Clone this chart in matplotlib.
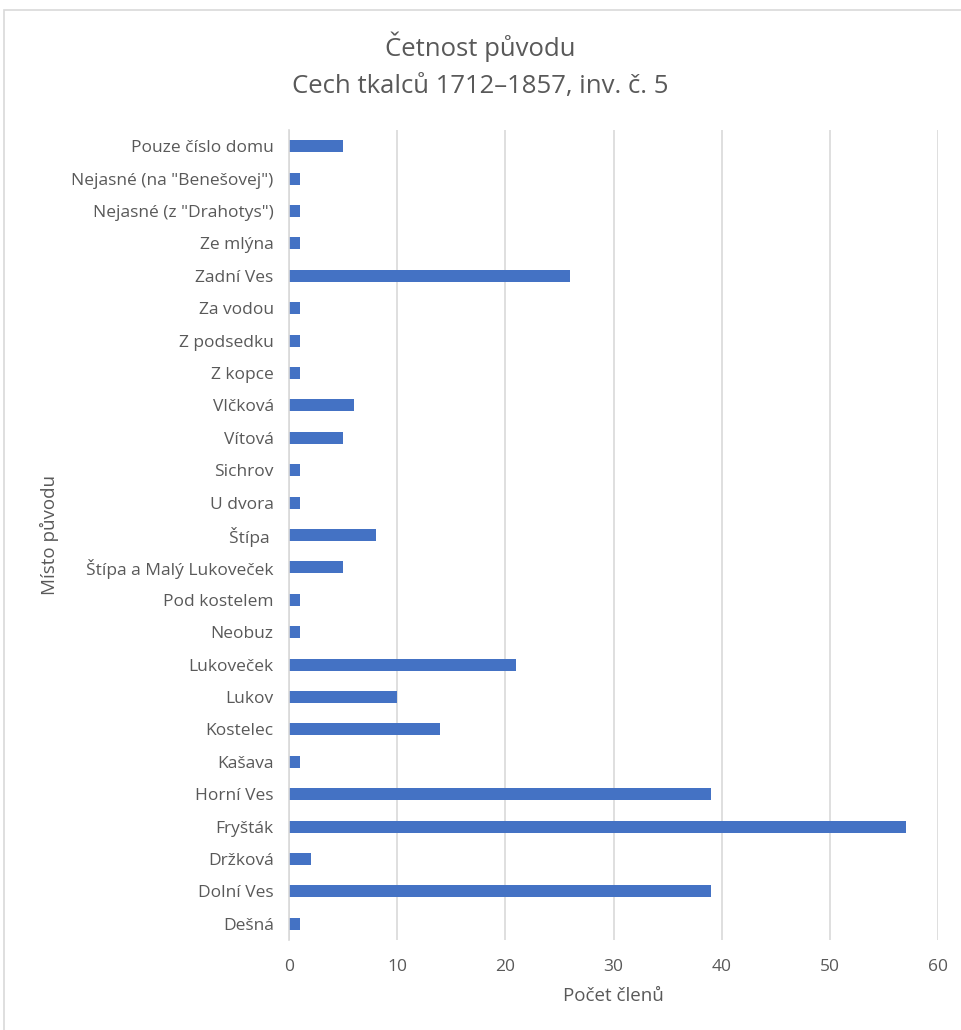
import matplotlib.pyplot as plt
from matplotlib.patches import Rectangle

# Data (bottom to top, as drawn)
places = ['Dešná', 'Dolní Ves', 'Držková', 'Fryšták', 'Horní Ves', 'Kašava',
          'Kostelec', 'Lukov', 'Lukoveček', 'Neobuz', 'Pod kostelem',
          'Štípa a Malý Lukoveček', 'Štípa ', 'U dvora', 'Sichrov', 'Vítová',
          'Vlčková', 'Z kopce', 'Z podsedku', 'Za vodou', 'Zadní Ves',
          'Ze mlýna', 'Nejasné (z "Drahotys")', 'Nejasné (na "Benešovej")',
          'Pouze číslo domu']
counts = [1, 39, 2, 57, 39, 1, 14, 10, 21, 1, 1, 5, 8, 1, 1, 5, 6, 1, 1, 1,
          26, 1, 1, 1, 5]
xticks = [0, 10, 20, 30, 40, 50, 60]

plt.rcParams['font.family'] = ['Open Sans', 'DejaVu Sans']
textColor = '#595959'

fig = plt.figure(figsize=(9.61, 10.30), dpi=100)

# Chart area border like in Excel
fig.patches.append(Rectangle((4 / 961, -0.01), 1.0, 1 - 10 / 1030 + 0.01,
                             transform=fig.transFigure, fill=False,
                             edgecolor='#d9d9d9', linewidth=1.2))

ax = fig.add_axes([289 / 961, 1 - 940 / 1030, (938 - 289) / 961, 810 / 1030])

ax.barh(range(len(places)), counts, height=0.37, color='#4472c4')

ax.set_xlim(0, 60)
ax.set_ylim(-0.5, len(places) - 0.5)
ax.set_xticks(xticks)
ax.set_yticks(range(len(places)))
ax.set_yticklabels(places)

ax.grid(axis='x', color='#d9d9d9', linewidth=1.2)
ax.set_axisbelow(True)
for s in ['top', 'right', 'bottom']:
    ax.spines[s].set_visible(False)
ax.spines['left'].set_color('#d9d9d9')
ax.spines['left'].set_linewidth(1.2)

ax.tick_params(axis='both', length=0, labelsize=12.5, labelcolor=textColor)
ax.tick_params(axis='x', pad=14)
ax.tick_params(axis='y', pad=11)

ax.set_xlabel('Počet členů', fontsize=13.5, color=textColor, labelpad=8)
ax.set_ylabel('Místo původu', fontsize=13.5, color=textColor, labelpad=9)

fig.text(0.5, 1 - 47 / 1030, 'Četnost původu', ha='center', va='center',
         fontsize=18.5, color=textColor)
fig.text(0.5, 1 - 87 / 1030, 'Cech tkalců 1712–1857, inv. č. 5', ha='center',
         va='center', fontsize=18.5, color=textColor)

fig.savefig('out.png', dpi=100)
